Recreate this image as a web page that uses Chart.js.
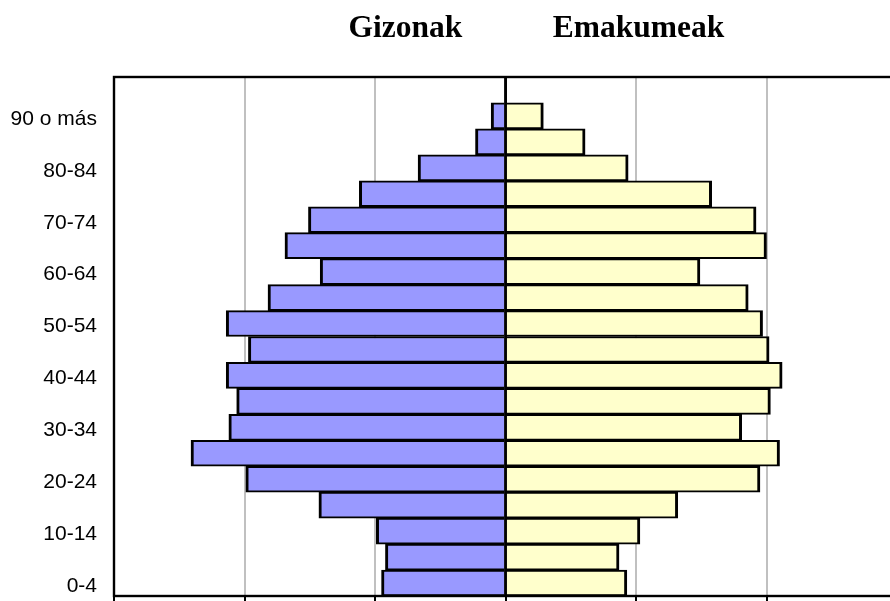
<!DOCTYPE html>
<html>
<head>
<meta charset="utf-8">
<title>Gizonak / Emakumeak</title>
<script src="https://cdn.jsdelivr.net/npm/chart.js@4.4.1/dist/chart.umd.min.js"></script>
<style>
  html, body { margin: 0; padding: 0; background: #fff; overflow: hidden; }
  #wrap { position: relative; width: 900px; height: 660px; }
</style>
</head>
<body>
<div id="wrap"><canvas id="pyramid"></canvas></div>
<script>
// age groups, oldest at the top
const ageGroups = ['90 o más', '85-89', '80-84', '75-79', '70-74', '65-69', '60-64',
    '55-59', '50-54', '45-49', '40-44', '35-39', '30-34', '25-29', '20-24',
    '15-19', '10-14', '5-9', '0-4'];

// values (same order as ageGroups)
const gizonak = [11, 23, 67, 112, 151, 169, 142, 182, 214, 197, 214, 206, 212, 241, 199, 143, 99, 92, 95];
const emakumeak = [29, 61, 94, 158, 192, 200, 149, 186, 197, 202, 212, 203, 181, 210, 195, 132, 103, 87, 93];

const titles = ['Gizonak', 'Emakumeak'];
const xMin = -300, xMax = 300, xStep = 100;

Chart.defaults.font.family = '"Liberation Sans", Arial, sans-serif';
Chart.defaults.color = '#000';

// frame round the plot + black centre line above the bars, titles on top
const framePlugin = {
    id: 'frame',
    afterDatasetsDraw(chart) {
        const { ctx, chartArea: a, scales } = chart;
        const x0 = scales.x.getPixelForValue(0);
        ctx.save();
        ctx.strokeStyle = '#000';
        ctx.lineWidth = 2.8;
        ctx.beginPath();
        ctx.moveTo(x0, a.top);
        ctx.lineTo(x0, a.bottom);
        ctx.stroke();
        ctx.lineWidth = 2.4;
        ctx.strokeRect(a.left, a.top, a.right - a.left, a.bottom - a.top);
        ctx.restore();
    },
    afterDraw(chart) {
        const ctx = chart.ctx;
        ctx.save();
        ctx.fillStyle = '#000';
        ctx.font = 'bold 31.5px "Liberation Serif", "Times New Roman", serif';
        ctx.textAlign = 'center';
        ctx.textBaseline = 'alphabetic';
        ctx.fillText(titles[0], 405.5, 37);
        ctx.fillText(titles[1], 638.5, 37);
        ctx.restore();
    }
};

const barBorder = { top: 2, bottom: 2, left: 3, right: 3 };

new Chart(document.getElementById('pyramid'), {
    type: 'bar',
    data: {
        labels: [''].concat(ageGroups),  // empty band above the oldest group
        datasets: [{
            label: titles[0],
            data: [null].concat(gizonak.map(v => -v)),
            backgroundColor: '#9999ff',
            borderColor: '#000',
            borderWidth: barBorder,
            barPercentage: 1,
            categoryPercentage: 1
        }, {
            label: titles[1],
            data: [null].concat(emakumeak),
            backgroundColor: '#ffffcc',
            borderColor: '#000',
            borderWidth: barBorder,
            barPercentage: 1,
            categoryPercentage: 1
        }]
    },
    options: {
        indexAxis: 'y',
        responsive: true,
        maintainAspectRatio: false,
        animation: false,
        layout: { padding: { top: 77, left: 0, right: 3, bottom: 0 } },
        plugins: {
            legend: { display: false },
            tooltip: { enabled: false }
        },
        scales: {
            x: {
                stacked: true,
                min: xMin,
                max: xMax,
                ticks: { stepSize: xStep, display: false },
                grid: {
                    color: ctx => ctx.tick && ctx.tick.value === 0 ? '#000' : '#c0c0c0',
                    lineWidth: 2,
                    tickColor: '#000',
                    tickWidth: 2,
                    tickLength: 8
                },
                border: { display: false },
                afterFit(scale) { scale.height = 64; }
            },
            y: {
                stacked: true,
                grid: { display: false, drawTicks: false },
                border: { display: false },
                ticks: {
                    autoSkip: false,
                    padding: 17,
                    labelOffset: 3,
                    font: { size: 21 },
                    callback: function(val, i) {
                        return i % 2 === 1 ? this.getLabelForValue(val) : '';
                    }
                },
                afterFit(scale) { scale.width = 114; }
            }
        }
    },
    plugins: [framePlugin]
});
</script>
</body>
</html>
